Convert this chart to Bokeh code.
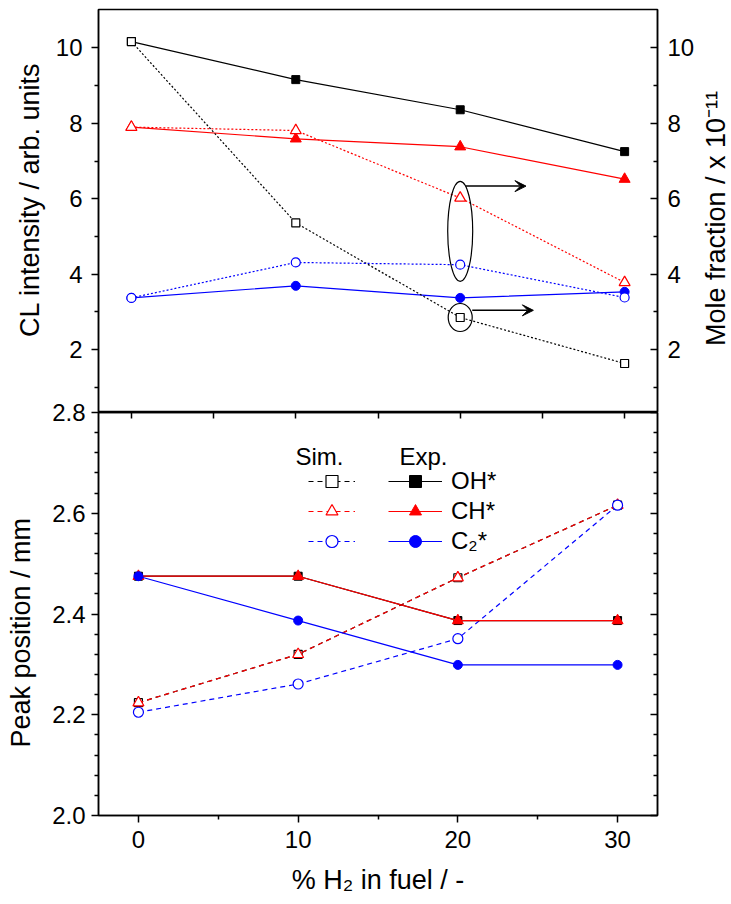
from math import pi
from bokeh.plotting import figure
from bokeh.models import (Range1d, LinearAxis, FixedTicker, Label, Arrow, VeeHead,
                          Legend, LegendItem, PrintfTickFormatter)
from bokeh.layouts import column, row
from bokeh.embed import file_html
from bokeh.resources import INLINE

# ---------------- data ----------------
h2_pct = [0, 10, 20, 30]

# top panel: CL intensity (experiment, left axis) / mole fraction (simulation, right axis)
cl_oh_exp = [10.17, 9.16, 8.36, 7.25]
cl_ch_exp = [7.90, 7.59, 7.38, 6.52]
cl_c2_exp = [3.37, 3.69, 3.37, 3.53]
mf_oh_sim = [10.17, 5.36, 2.85, 1.63]
mf_ch_sim = [7.90, 7.81, 6.02, 3.78]
mf_c2_sim = [3.37, 4.31, 4.25, 3.38]

# bottom panel: peak position / mm
pk_oh_exp = [2.475, 2.475, 2.387, 2.387]
pk_ch_exp = [2.475, 2.475, 2.387, 2.387]
pk_c2_exp = [2.475, 2.387, 2.299, 2.299]
pk_oh_sim = [2.224, 2.320, 2.472, 2.616]
pk_ch_sim = [2.224, 2.320, 2.472, 2.616]
pk_c2_sim = [2.205, 2.261, 2.351, 2.616]

species = ["OH*", "CH*", "C\u2082*"]
top_ticks = [2, 4, 6, 8, 10]
top_minor = [1, 3, 5, 7, 9]
bot_ticks = [2.0, 2.2, 2.4, 2.6, 2.8]
bot_minor = [2.04, 2.08, 2.12, 2.16, 2.24, 2.28, 2.32, 2.36, 2.44, 2.48, 2.52, 2.56,
             2.64, 2.68, 2.72, 2.76]
x_ticks = [0, 10, 20, 30]
x_minor = [5, 15, 25]
x_ticks_top = [0, 5, 10, 15, 20, 25, 30]

NB = "\u00a0"
title_left_top = NB * 3 + "CL intensity / arb. units"
title_right_top = "Mole fraction / x 10\u207b\u00b9\u00b9" + NB * 2
title_left_bot = "Peak position / mm" + NB * 5
title_below = "% H\u2082 in fuel / -"

# ---------------- style ----------------
FONT = "Liberation Sans"
TICK_FS = "24px"
TITLE_FS = "27px"
colors = ["black", "red", "blue"]
markers = ["square", "triangle", "circle"]
msize = [8, 11, 9]
W = 731
SIDE = 34                # strip on the right that holds the right-hand title
FL, FR = 98, 74          # frame borders (left/right) of the full-width layout
FH = 403                 # frame height of each panel

TX = (-2.0, 32.0)
TY = (0.33, 11.02)
BX = (-2.5, 32.5)
BY = (2.0, 2.8)

fw = W - FL - FR


def style_axis(ax, out=True, labels=True, standoff=8):
    ax.axis_line_width = 1.5
    ax.axis_line_color = "black"
    ax.major_tick_line_width = 1.5
    ax.minor_tick_line_width = 1.5
    if out:
        ax.major_tick_out, ax.major_tick_in = 7, 0
        ax.minor_tick_out, ax.minor_tick_in = 4, 0
    else:
        ax.major_tick_out, ax.major_tick_in = 0, 7
        ax.minor_tick_out, ax.minor_tick_in = 0, 4
    if labels:
        ax.major_label_text_font = FONT
        ax.major_label_text_font_size = TICK_FS
        ax.major_label_text_color = "black"
        ax.major_label_standoff = standoff
    else:
        ax.major_label_text_font_size = "0px"
        ax.major_label_text_color = None
        ax.major_label_standoff = 0


def style_title(ax, text, standoff):
    ax.axis_label = text
    ax.axis_label_text_font = FONT
    ax.axis_label_text_font_size = TITLE_FS
    ax.axis_label_text_font_style = "normal"
    ax.axis_label_text_color = "black"
    ax.axis_label_standoff = standoff


# ================= top panel =================
W1 = W - SIDE
p1 = figure(width=W1, height=9 + FH, x_range=Range1d(*TX), y_range=Range1d(*TY),
            output_backend="svg", toolbar_location=None, x_axis_location=None,
            min_border_left=FL, min_border_right=FR - SIDE, min_border_top=9,
            min_border_bottom=0)
p1.extra_y_ranges = {"mf": Range1d(*TY)}
p1.grid.visible = False
p1.outline_line_color = "black"
p1.outline_line_width = 1.5
p1.background_fill_color = "white"

ya = p1.yaxis[0]
ya.ticker = FixedTicker(ticks=top_ticks, minor_ticks=top_minor)
style_axis(ya, out=True, standoff=9)
style_title(ya, title_left_top, 8)

yr = LinearAxis(y_range_name="mf", ticker=FixedTicker(ticks=top_ticks, minor_ticks=top_minor))
style_axis(yr, out=False, standoff=10)
p1.add_layout(yr, "right")

exp_top = [cl_oh_exp, cl_ch_exp, cl_c2_exp]
sim_top = [mf_oh_sim, mf_ch_sim, mf_c2_sim]
for vals, c, m, s in zip(exp_top, colors, markers, msize):
    p1.line(h2_pct, vals, line_color=c, line_width=1.2)
    p1.scatter(h2_pct, vals, marker=m, size=s, fill_color=c, line_color=c)
for vals, c, m, s in zip(sim_top, colors, markers, msize):
    p1.line(h2_pct, vals, line_color=c, line_width=1.2, line_dash="2 2", y_range_name="mf")
    p1.scatter(h2_pct, vals, marker=m, size=s, fill_color="white", line_color=c,
               line_width=1.2, y_range_name="mf")

# annotations: ellipse around CH*/C2* sim at 20 %, circle around OH* sim, arrows to right axis
ell_y = (mf_ch_sim[2] + mf_c2_sim[2]) / 2
p1.ellipse(x=[h2_pct[2]], y=[ell_y], width=25, height=100, width_units="screen",
           height_units="screen", fill_color=None, line_color="black", line_width=1.2,
           y_range_name="mf")
p1.ellipse(x=[h2_pct[2]], y=[mf_oh_sim[2]], width=24, height=28, width_units="screen",
           height_units="screen", fill_color=None, line_color="black", line_width=1.2,
           y_range_name="mf")
p1.add_layout(Arrow(x_start=h2_pct[2] + 0.32, y_start=ell_y + 1.20,
                    x_end=h2_pct[2] + 4.0, y_end=ell_y + 1.20, y_range_name="mf",
                    line_color="black", line_width=1.5,
                    end=VeeHead(size=11, fill_color="black", line_color="black")))
p1.add_layout(Arrow(x_start=h2_pct[2] + 0.73, y_start=mf_oh_sim[2] + 0.19,
                    x_end=h2_pct[2] + 4.45, y_end=mf_oh_sim[2] + 0.19, y_range_name="mf",
                    line_color="black", line_width=1.5,
                    end=VeeHead(size=11, fill_color="black", line_color="black")))

# narrow strip carrying the right-hand title (reads bottom to top)
ps = figure(width=SIDE, height=9 + FH, x_range=Range1d(0, 1), y_range=Range1d(0, 1),
            output_backend="svg", toolbar_location=None, x_axis_location=None,
            min_border_left=SIDE - 1, min_border_right=0, min_border_top=9,
            min_border_bottom=0)
ps.grid.visible = False
ps.outline_line_color = None
sa = ps.yaxis[0]
sa.ticker = FixedTicker(ticks=[], minor_ticks=[])
sa.axis_line_color = None
sa.major_tick_out = sa.major_tick_in = sa.minor_tick_out = sa.minor_tick_in = 0
sa.major_label_text_font_size = "0px"
sa.major_label_standoff = 0
style_title(sa, title_right_top, 0)

# ================= bottom panel =================
TOPB, BOTB = 20, 89
p2 = figure(width=W, height=TOPB + FH + BOTB, x_range=Range1d(*BX), y_range=Range1d(*BY),
            output_backend="svg", toolbar_location=None,
            min_border_left=FL, min_border_right=FR, min_border_top=TOPB,
            min_border_bottom=BOTB, margin=(-TOPB, 0, 0, 0))
p2.border_fill_alpha = 0
p2.background_fill_color = "white"
p2.grid.visible = False
p2.outline_line_color = "black"
p2.outline_line_width = 1.5
p2.extra_x_ranges = {"top": Range1d(*TX)}

ly = p2.yaxis[0]
ly.ticker = FixedTicker(ticks=bot_ticks, minor_ticks=bot_minor)
ly.formatter = PrintfTickFormatter(format="%.1f")
style_axis(ly, out=True, standoff=6)
style_title(ly, title_left_bot, 13)

ry = LinearAxis(ticker=FixedTicker(ticks=bot_ticks, minor_ticks=bot_minor))
style_axis(ry, out=False, labels=False)
p2.add_layout(ry, "right")

bx = p2.xaxis[0]
bx.ticker = FixedTicker(ticks=x_ticks, minor_ticks=x_minor)
style_axis(bx, out=True, standoff=8)
style_title(bx, title_below, 14)

tx = LinearAxis(x_range_name="top", ticker=FixedTicker(ticks=x_ticks_top, minor_ticks=[]))
style_axis(tx, out=False, labels=False)
tx.major_tick_in = 6
p2.add_layout(tx, "above")

sim_bot = [pk_oh_sim, pk_ch_sim, pk_c2_sim]
exp_bot = [pk_oh_exp, pk_ch_exp, pk_c2_exp]
sim_items, exp_items = [], []
for vals, c, m, s, name in zip(sim_bot, colors, markers, [8, 11, 10], species):
    r1 = p2.line(h2_pct, vals, line_color=c, line_width=1.2, line_dash="5 4")
    r2 = p2.scatter(h2_pct, vals, marker=m, size=s, fill_color="white", line_color=c,
                    line_width=1.2)
    sim_items.append(LegendItem(label="", renderers=[r1, r2]))
for vals, c, m, s, name in zip(exp_bot, colors, markers, [8, 11, 9], species):
    r1 = p2.line(h2_pct, vals, line_color=c, line_width=1.2)
    r2 = p2.scatter(h2_pct, vals, marker=m, size=s, fill_color=c, line_color=c)
    exp_items.append(LegendItem(label=name, renderers=[r1, r2]))

for items, gx, gw in [(sim_items, 210, 47), (exp_items, 290, 54)]:
    lg = Legend(items=items, location=(gx, 259), orientation="vertical",
                glyph_width=gw, glyph_height=30, label_height=30, spacing=0,
                padding=0, margin=0, label_standoff=9,
                label_text_font=FONT, label_text_font_size=TICK_FS,
                label_text_color="black",
                border_line_color=None, background_fill_alpha=0)
    p2.add_layout(lg)


def xd2(px):
    return BX[0] + (px - 98) * (BX[1] - BX[0]) / fw


def yd2(py):
    return BY[1] - (py - 412) * (BY[1] - BY[0]) / FH


for px, text in [(295, "Sim."), (399, "Exp.")]:
    p2.add_layout(Label(x=xd2(px), y=yd2(456), text=text, text_align="left",
                        text_baseline="alphabetic", text_font=FONT,
                        text_font_size=TICK_FS, text_color="black"))

layout = column(row(p1, ps, spacing=0), p2, spacing=0)
open("out.html", "w").write(file_html(layout, INLINE))
